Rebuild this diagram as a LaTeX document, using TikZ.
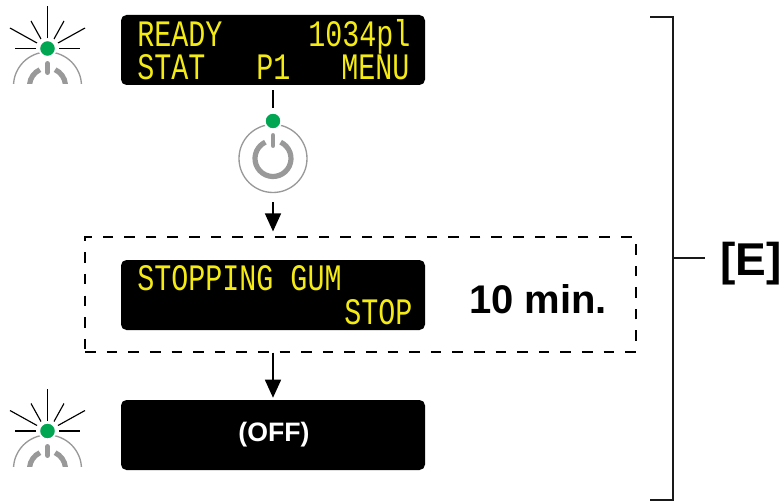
\documentclass[tikz,border=0pt]{standalone}
\usepackage{fontspec}
\setmainfont{Liberation Sans}
\newfontfamily\lcdfont[FakeStretch=0.76]{Liberation Mono}
\definecolor{lcdyellow}{HTML}{F5EB14}
\definecolor{lampgreen}{HTML}{00A651}
\definecolor{icongray}{HTML}{999999}
\usetikzlibrary{arrows.meta}
\tikzset{
  display/.style={fill=black,rounded corners=4.1pt,minimum width=228pt,minimum height=52.5pt,inner sep=0pt,draw=none},
  lcd/.style={text=lcdyellow,font=\lcdfont\fontsize{28}{28}\selectfont,anchor=base west,inner sep=0pt},
  boldlabel/.style={font=\bfseries\fontsize{30}{30}\selectfont,inner sep=0pt,anchor=base west},
  conn/.style={draw=black,line width=1.1pt},
  arrowconn/.style={conn,-{Triangle[length=13.5pt,width=12pt]}},
  rayline/.style={draw=black,line width=0.85pt},
  lamp/.style={circle,fill=lampgreen,draw=white,line width=1.35pt,minimum size=12.4pt,inner sep=0pt},
  ringline/.style={draw=icongray,line width=1pt},
  powerline/.style={draw=icongray,line width=3.9pt},
  powerbar/.style={draw=icongray,line width=3.4pt,line cap=round},
  bracketline/.style={draw=black!90,line width=1pt},
}
\newcommand{\rays}[1]{%
  \begin{scope}[shift={(#1)}]
    \draw[rayline] (0,-10) -- (0,-42);
    \draw[rayline] (-10.5,-5.5) -- (-37.5,-20.5);
    \draw[rayline] (10.5,-5.5) -- (37.5,-20.5);
    \draw[rayline] (-6.5,-9.5) -- (-16.5,-27.5);
    \draw[rayline] (6.5,-9.5) -- (16.5,-27.5);
    \draw[rayline] (-11.5,0) -- (-32.5,0);
    \draw[rayline] (11.5,0) -- (32.5,0);
  \end{scope}}
\begin{document}
\begin{tikzpicture}[x=0.75pt,y=-0.75pt]
\useasboundingbox (0,0) rectangle (783,503);
% displays
\node[display] (d1) at (273,50) {};
\node[display] (d2) at (273,295) {};
\node[display] (d3) at (273,435) {};
\node[lcd] (t1) at (137,47) {READY};
\node[lcd] (t2) at (308,47) {1034pl};
\node[lcd] (t3) at (137,80) {STAT};
\node[lcd] (t4) at (256,80) {P1};
\node[lcd] (t5) at (341,80) {MENU};
\node[lcd] (t6) at (137,291) {STOPPING GUM};
\node[lcd] (t7) at (344,324.5) {STOP};
\node[font=\bfseries\fontsize{20}{20}\selectfont,text=white,inner sep=0pt] (off) at (274,435) {(OFF)};
\node[boldlabel] (mins) at (469,313) {10 min.};
\node[boldlabel,font=\bfseries\fontsize{34.5}{34.5}\selectfont] (e) at (720,275) {[E]};
% dashed box
\node[draw=black,line width=1.1pt,dash pattern=on 7.9pt off 8.3pt,minimum width=413pt,minimum height=86pt,inner sep=0pt] (dbox) at (360.5,294.5) {};
% top lamp icon
\begin{scope}
  \clip (0,0) rectangle (100,84);
  \draw[ringline] (47.5,86) circle (34);
  \draw[powerline] (47.5,86) ++(-65:18) arc[start angle=-65,end angle=30,radius=18];
  \draw[powerline] (47.5,86) ++(-115:18) arc[start angle=-115,end angle=-210,radius=18];
  \draw[powerbar] (47.5,63.3) -- (47.5,72.7);
\end{scope}
\rays{47.5,48.5}
\node[lamp] (lamp1) at (47.5,48.5) {};
% middle icon
\node[circle,draw=icongray,line width=1pt,minimum size=51pt,inner sep=0pt] (pwr) at (273,158.5) {};
\draw[powerline] (273,158.5) ++(-65:18) arc[start angle=-65,end angle=245,radius=18];
\draw[powerbar] (273,135.3) -- (273,145.7);
\node[lamp] (lamp2) at (273,121) {};
\draw[conn] ([yshift=-3.75pt]d1.south) -- ([yshift=2.5pt]lamp2.north);
\draw[arrowconn] ([yshift=-6.8pt]pwr.south) -- ([yshift=3.75pt]dbox.north -| pwr);
% lower lamp icon
\begin{scope}
  \clip (0,400) rectangle (100,466);
  \draw[ringline] (47.5,469) circle (34);
  \draw[powerline] (47.5,469) ++(-65:18) arc[start angle=-65,end angle=30,radius=18];
  \draw[powerline] (47.5,469) ++(-115:18) arc[start angle=-115,end angle=-210,radius=18];
  \draw[powerbar] (47.5,446.3) -- (47.5,455.7);
\end{scope}
\rays{47.5,431}
\node[lamp] (lamp3) at (47.5,431) {};
\draw[arrowconn] (dbox.south -| d3) -- ([yshift=1.5pt]d3.north);
% bracket
\coordinate (bt) at (650,17);
\coordinate (bb) at (650,500);
\coordinate (bm) at (673,258);
\coordinate (bn) at (705,258);
\draw[bracketline] (bt) -- (673,17) -- (673,500) -- (bb);
\draw[bracketline] (bm) -- (bn);
\end{tikzpicture}
\end{document}
